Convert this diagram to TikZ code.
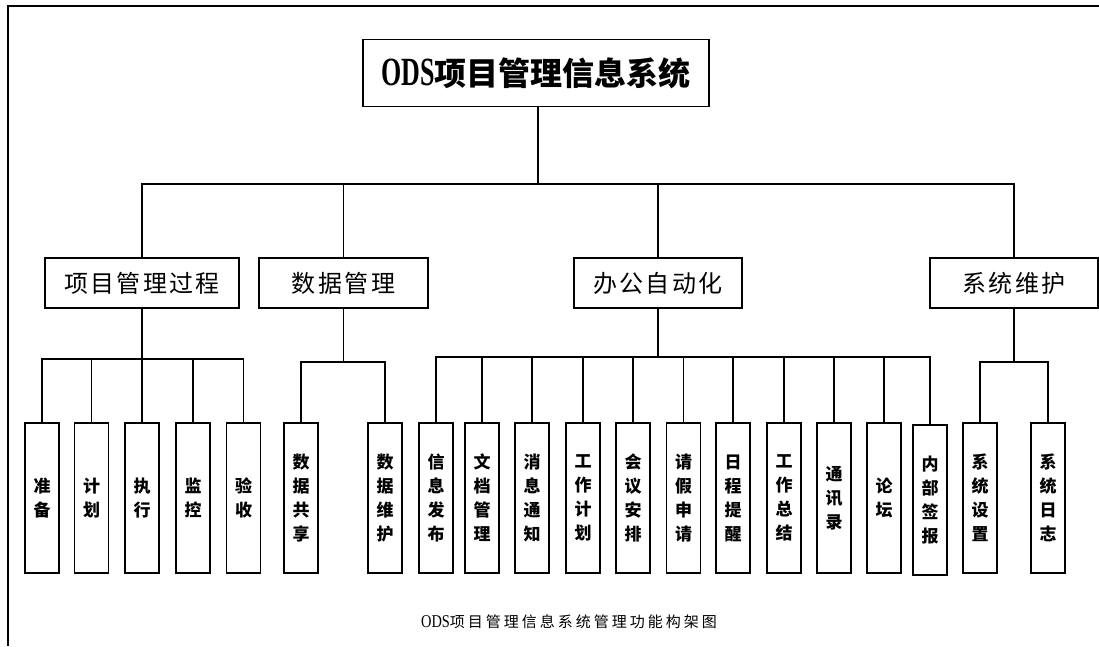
\documentclass[tikz,border=0pt]{standalone}
\usepackage{fontspec}
\setmainfont{Liberation Serif}
\newfontfamily\cjk{Noto Sans CJK SC}
\usepackage{tikz}

\tikzset{
  box/.style={draw, line width=1.3pt, inner sep=0pt},
  rootbox/.style={box, minimum width=346pt, minimum height=67pt},
  groupbox/.style={box, minimum height=50pt, font=\cjk\addfontfeature{LetterSpace=10}\fontsize{24}{24}\selectfont},
  leafbox/.style={box, minimum width=34pt, minimum height=150pt, align=center, font=\cjk\bfseries\fontsize{17}{24}\selectfont},
  link/.style={line width=1.3pt},
}

\begin{document}
\begin{tikzpicture}[x=1pt, y=-1pt]
\useasboundingbox (0,0) rectangle (1099,646);
\draw[line width=1.4pt] (8,646) -- (8,6) -- (1099,6);

% root
\node[rootbox] (root) at (536,73) {{\fontsize{40}{40}\selectfont\bfseries\addfontfeature{FakeStretch=0.65}ODS}{\cjk\bfseries\fontsize{32}{32}\selectfont 项目管理信息系统}};

% second level
\node[groupbox, minimum width=194pt] (proc) at (142,283) {项目管理过程};
\node[groupbox, minimum width=169pt] (data) at (343.5,283) {数据管理};
\node[groupbox, minimum width=168pt] (office) at (658,283) {办公自动化};
\node[groupbox, minimum width=168pt] (sys) at (1014,283) {系统维护};

% leaves
\node[leafbox] (p1) at (42,498) {准\\备};
\node[leafbox] (p2) at (91.5,498) {计\\划};
\node[leafbox] (p3) at (142,498) {执\\行};
\node[leafbox] (p4) at (193,498) {监\\控};
\node[leafbox] (p5) at (243.5,498) {验\\收};
\node[leafbox] (d1) at (301,498) {数\\据\\共\\享};
\node[leafbox] (d2) at (385,498) {数\\据\\维\\护};
\node[leafbox] (o1) at (436,498) {信\\息\\发\\布};
\node[leafbox] (o2) at (482,498) {文\\档\\管\\理};
\node[leafbox] (o3) at (532,498) {消\\息\\通\\知};
\node[leafbox] (o4) at (583,498) {工\\作\\计\\划};
\node[leafbox] (o5) at (633,498) {会\\议\\安\\排};
\node[leafbox] (o6) at (683.5,498) {请\\假\\申\\请};
\node[leafbox] (o7) at (733,498) {日\\程\\提\\醒};
\node[leafbox] (o8) at (784,498) {工\\作\\总\\结};
\node[leafbox] (o9) at (834,498) {通\\讯\\录};
\node[leafbox] (o10) at (884,498) {论\\坛};
\node[leafbox] (o11) at (930,500) {内\\部\\签\\报};
\node[leafbox] (s1) at (980,498) {系\\统\\设\\置};
\node[leafbox] (s2) at (1048,498) {系\\统\\日\\志};

% bus points
\coordinate (b0) at (538,184);
\coordinate (b1) at (142,359);
\coordinate (b2) at (343.5,362);
\coordinate (b3) at (658,357);
\coordinate (b4) at (1014,362);

\draw[link] (root.south -| b0) -- (b0);
\foreach \g in {proc,data,office,sys} \draw[link] (b0) -| (\g.north);
\draw[link] (proc.south) -- (b1);
\foreach \c in {p1,p2,p3,p4,p5} \draw[link] (b1) -| (\c.north);
\draw[link] (data.south) -- (b2);
\foreach \c in {d1,d2} \draw[link] (b2) -| (\c.north);
\draw[link] (office.south) -- (b3);
\foreach \c in {o1,o2,o3,o4,o5,o6,o7,o8,o9,o10,o11} \draw[link] (b3) -| (\c.north);
\draw[link] (sys.south) -- (b4);
\foreach \c in {s1,s2} \draw[link] (b4) -| (\c.north);

% caption
\node (caption) at (569,622) {{\fontsize{18}{18}\selectfont\addfontfeature{FakeStretch=0.8}ODS}{\cjk\addfontfeature{LetterSpace=20}\fontsize{15}{15}\selectfont 项目管理信息系统管理功能构架图}};
\end{tikzpicture}
\end{document}
